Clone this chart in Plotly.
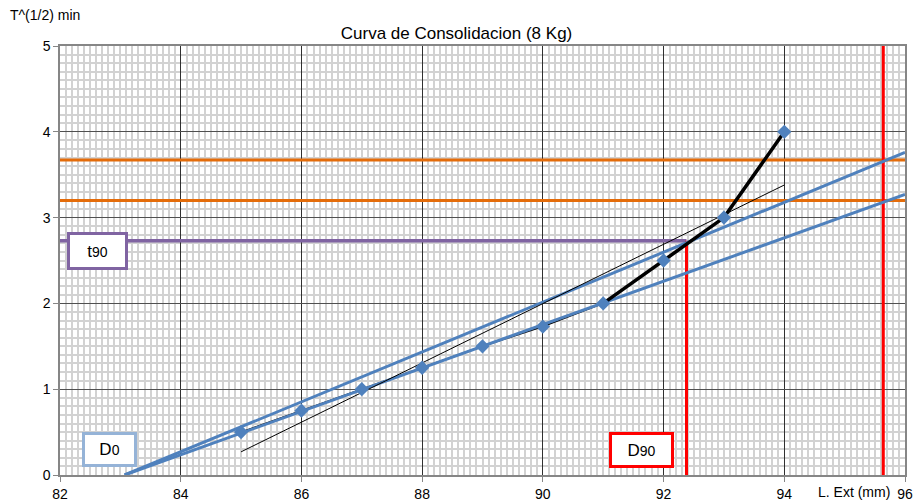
import plotly.graph_objects as go

# Lecturas del ensayo
ext = [85, 86, 87, 88, 89, 90, 91, 92, 93, 94]
raiz_t = [0.5, 0.75, 1.0, 1.25, 1.5, 1.73, 2.0, 2.5, 3.0, 4.0]

# Rectas de construccion (Taylor)
recta_x = [83.07, 96]
recta_b_y = [0, 3.27]
recta_a_y = [0, 3.76]
tangente_x = [85, 94]
tangente_y = [0.27, 3.38]
niveles_naranja = [3.2, 3.67]
t90 = 2.73
d90 = 92.38
d_final = 95.64

BLUE = '#4F81BD'
FONT = 'Liberation Sans, Arial, sans-serif'

fig = go.Figure()

# horizontal orange levels
for lvl in niveles_naranja:
    fig.add_trace(go.Scatter(x=[82, 96], y=[lvl, lvl], mode='lines',
                             line=dict(color='#E46C0A', width=3), hoverinfo='skip'))

# t90 line and D90 vertical
fig.add_trace(go.Scatter(x=[82, d90], y=[t90, t90], mode='lines',
                         line=dict(color='#8064A2', width=3.5), hoverinfo='skip'))
fig.add_trace(go.Scatter(x=[d90, d90], y=[0, t90], mode='lines',
                         line=dict(color='#FF0000', width=3), hoverinfo='skip'))
fig.add_trace(go.Scatter(x=[d_final, d_final], y=[0, 5], mode='lines',
                         line=dict(color='#FF0000', width=3), hoverinfo='skip'))

# thin data line (first part)
fig.add_trace(go.Scatter(x=ext[:7], y=raiz_t[:7], mode='lines',
                         line=dict(color='black', width=1.5), hoverinfo='skip'))

# fitted straight lines
fig.add_trace(go.Scatter(x=recta_x, y=recta_a_y, mode='lines',
                         line=dict(color=BLUE, width=3), hoverinfo='skip'))
fig.add_trace(go.Scatter(x=recta_x, y=recta_b_y, mode='lines',
                         line=dict(color=BLUE, width=3), hoverinfo='skip'))

# tangent
fig.add_trace(go.Scatter(x=tangente_x, y=tangente_y, mode='lines',
                         line=dict(color='black', width=1), hoverinfo='skip'))

# thick data line (last part)
fig.add_trace(go.Scatter(x=ext[6:], y=raiz_t[6:], mode='lines',
                         line=dict(color='black', width=3.5), hoverinfo='skip'))

# markers
fig.add_trace(go.Scatter(x=ext, y=raiz_t, mode='markers',
                         marker=dict(symbol='diamond', size=11, color=BLUE)))

# label boxes
def caja(x, y, base, sub, color, w, h):
    fig.add_annotation(x=x, y=y, xref='x', yref='y', showarrow=False,
                       text=f"{base}<span style='font-size:14px'>{sub}</span>",
                       font=dict(family=FONT, size=17, color='black'),
                       bgcolor='white', bordercolor=color, borderwidth=3,
                       borderpad=0, width=w, height=h)

caja(82.62, 2.61, 't', '90', '#8064A2', 55, 32)
caja(82.82, 0.30, 'D', '0', '#95B3D7', 49, 29)
caja(91.64, 0.29, 'D', '90', '#FF0000', 59, 30)

fig.add_annotation(x=0, y=1, xref='paper', yref='paper', xshift=-52, yshift=31,
                   xanchor='left', yanchor='middle', showarrow=False,
                   text='T^(1/2) min', font=dict(family=FONT, size=14, color='black'))
fig.add_annotation(x=95.78, y=0, xref='x', yref='paper', yshift=-7,
                   xanchor='right', yanchor='top', showarrow=False,
                   text='L. Ext (mm)', font=dict(family=FONT, size=14, color='black'))

fig.update_layout(
    width=913, height=501,
    margin=dict(l=60, r=8, t=46, b=26),
    paper_bgcolor='white', plot_bgcolor='white',
    showlegend=False,
    title=dict(text='Curva de Consolidacion (8 Kg)', x=0.5, xanchor='center',
               y=1 - 33 / 501, yanchor='middle',
               font=dict(family=FONT, size=17, color='black')),
    font=dict(family=FONT, size=14, color='black'),
)

fig.update_xaxes(range=[82, 96], dtick=2, tick0=82, showgrid=True, automargin=False,
                 gridcolor='#303030', gridwidth=1,
                 minor=dict(dtick=0.1, showgrid=True, gridcolor='#d2d2d2', gridwidth=2),
                 showline=True, linecolor='#868686', linewidth=1.5, mirror=True,
                 ticks='outside', ticklen=5, tickcolor='#868686', zeroline=False,
                 tickfont=dict(family=FONT, size=14, color='black'))
fig.update_yaxes(range=[0, 5], dtick=1, tick0=0, showgrid=True, automargin=False,
                 gridcolor='#505050', gridwidth=1,
                 minor=dict(dtick=0.1, showgrid=True, gridcolor='#d2d2d2', gridwidth=2),
                 showline=True, linecolor='#868686', linewidth=1.5, mirror=True,
                 ticks='outside', ticklen=5, tickcolor='#868686', zeroline=False,
                 tickfont=dict(family=FONT, size=14, color='black'))

fig.write_html("out.html", config={'displayModeBar': False},
               post_script="document.body.style.margin='0';")
